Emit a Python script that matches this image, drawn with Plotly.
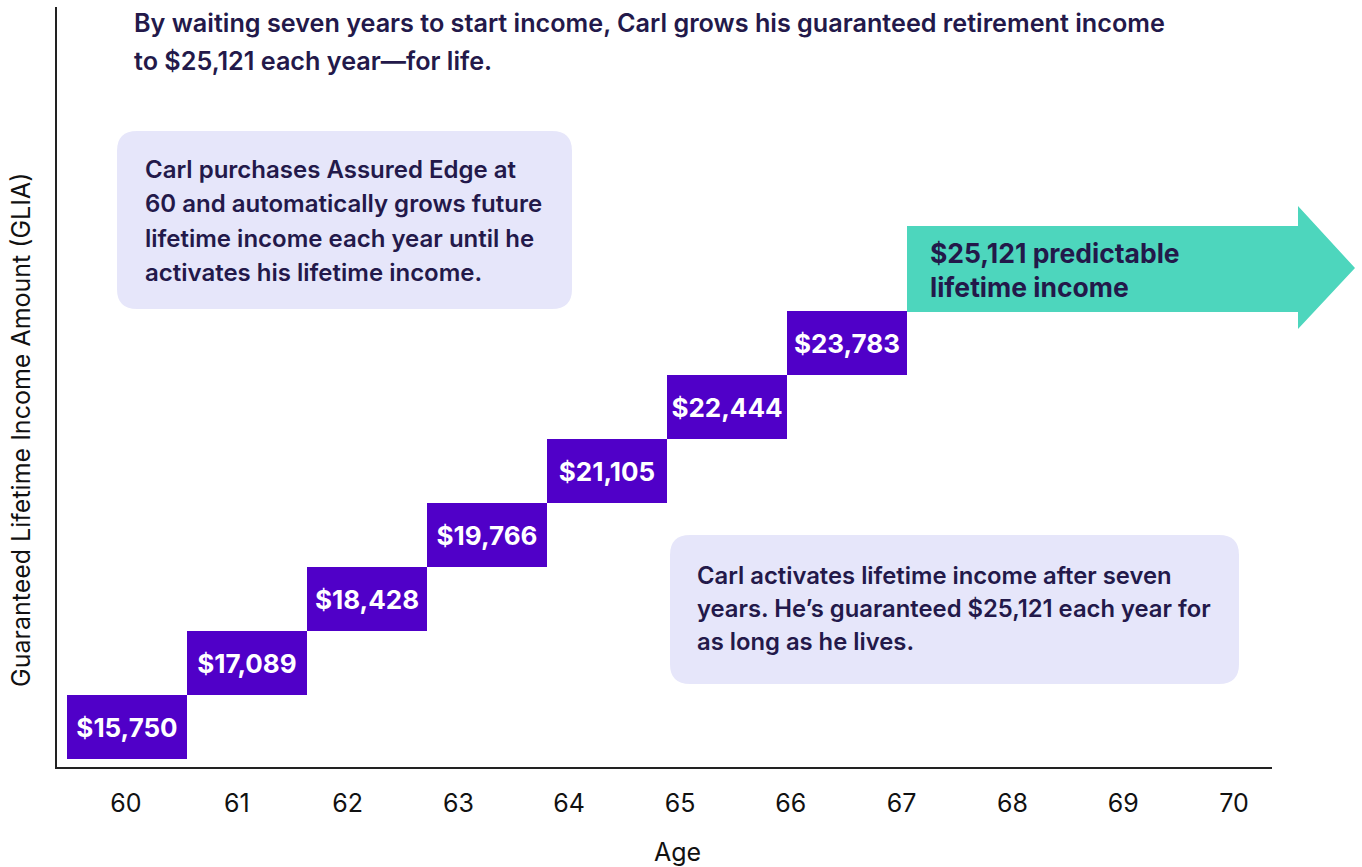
import plotly.graph_objects as go
import numpy as np

# ---- data ----
ages = [60, 61, 62, 63, 64, 65, 66]
glia = [15750, 17089, 18428, 19766, 21105, 22444, 23783]
tick_ages = [60, 61, 62, 63, 64, 65, 66, 67, 68, 69, 70]
final_income = 25121

title_lines = ["By waiting seven years to start income, Carl grows his guaranteed retirement income",
               "to $25,121 each year\u2014for life."]
box1_lines = ["Carl purchases Assured Edge at",
              "60 and automatically grows future",
              "lifetime income each year until he",
              "activates his lifetime income."]
box2_lines = ["Carl activates lifetime income after seven",
              "years. He\u2019s guaranteed $25,121 each year for",
              "as long as he lives."]
arrow_lines = ["$25,121 predictable", "lifetime income"]
x_title = "Age"
y_title = "Guaranteed Lifetime Income Amount (GLIA)"

W, H = 1362, 867
L, R, T, B = 57, 90, 7, 100
X0, X1, Y0, Y1 = L, W - R, T, H - B

def px(x):
    return (x - X0) / (X1 - X0)

def py(y):
    return (Y1 - y) / (Y1 - Y0)

def rrect(x0, y0, x1, y1, r):
    def P(x, y):
        return f"{px(x):.5f},{py(y):.5f}"
    return (f"M {P(x0 + r, y0)} L {P(x1 - r, y0)} Q {P(x1, y0)} {P(x1, y0 + r)} "
            f"L {P(x1, y1 - r)} Q {P(x1, y1)} {P(x1 - r, y1)} "
            f"L {P(x0 + r, y1)} Q {P(x0, y1)} {P(x0, y1 - r)} "
            f"L {P(x0, y0 + r)} Q {P(x0, y0)} {P(x0 + r, y0)} Z")

step = float(np.mean(np.diff(glia)))
vals = np.array(glia, dtype=float)

FONT = "Inter"
NAVY = "#23194A"
PURPLE = "#5000C8"
TEAL = "#4DD6BD"
LAV = "#E6E6FA"

fig = go.Figure()

fig.add_trace(go.Scatter(x=[tick_ages[0], tick_ages[-1]], y=[glia[0], glia[0]], mode="markers",
                         marker=dict(opacity=0), hoverinfo="skip", showlegend=False,
                         xaxis="x", yaxis="y"))

fig.add_trace(go.Bar(
    x=ages, y=[step] * len(ages), base=vals - step, width=1,
    marker=dict(color=PURPLE, line=dict(width=0)),
    text=[f"${v:,}" for v in glia], textposition="inside", insidetextanchor="middle",
    textangle=0, constraintext="none",
    textfont=dict(family=FONT, size=26, color="white", weight="bold"),
    xaxis="x2", yaxis="y", showlegend=False, hoverinfo="skip"))

dollars_per_px = step / 64.0
ymin = glia[0] - (Y1 - 695) * dollars_per_px
ymax = glia[0] + (695 - Y0) * dollars_per_px

unit_tick = (1234 - 126) / (tick_ages[-1] - tick_ages[0])
xr = [tick_ages[0] - (126 - X0) / unit_tick, tick_ages[0] + (X1 - 126) / unit_tick]
unit_bar = 120.0
xr2 = [ages[0] - (127 - X0) / unit_bar, ages[0] + (X1 - 127) / unit_bar]

fig.update_layout(
    template="none",
    width=W, height=H, margin=dict(l=L, r=R, t=T, b=B, autoexpand=False),
    paper_bgcolor="white", plot_bgcolor="white",
    font=dict(family=FONT, color="black"),
    xaxis=dict(range=xr, tickvals=tick_ages, ticktext=[str(a) for a in tick_ages],
               automargin=False,
               showgrid=False, zeroline=False, showline=True, linecolor="#222", linewidth=1.5,
               ticks="", tickfont=dict(family=FONT, size=25, color="#111"),
               ticklabelstandoff=13),
    xaxis2=dict(range=xr2, overlaying="x", visible=False),
    yaxis=dict(range=[ymin, ymax], showgrid=False, zeroline=False, showline=True,
               automargin=False,
               linecolor="#222", linewidth=1.5, showticklabels=False, ticks=""),
    bargap=0,
)

shapes = [
    dict(type="path", xref="paper", yref="paper", path=rrect(117, 131, 572, 309, 20),
         fillcolor=LAV, line=dict(width=0), layer="below"),
    dict(type="path", xref="paper", yref="paper", path=rrect(670, 535, 1239, 684, 20),
         fillcolor=LAV, line=dict(width=0), layer="below"),
]
ax = [907, 1298, 1298, 1355, 1298, 1298, 907]
ay = [226, 226, 206, 268, 329, 312, 312]
apath = "M " + " L ".join(f"{px(a):.5f},{py(b):.5f}" for a, b in zip(ax, ay)) + " Z"
shapes.append(dict(type="path", xref="paper", yref="paper", path=apath,
                   fillcolor=TEAL, line=dict(width=0), layer="above"))
fig.update_layout(shapes=shapes)

ann = []
def add_lines(lines, x, y0, dy, size, weight, color=NAVY):
    for i, t in enumerate(lines):
        ann.append(dict(text=t, x=px(x), y=py(y0 + i * dy), xref="paper", yref="paper",
                        xanchor="left", yanchor="middle", showarrow=False, align="left",
                        font=dict(family=FONT, size=size, color=color, weight=weight)))

add_lines(title_lines, 132, 23, 38, 25.2, 600)
add_lines(box1_lines, 143, 170, 34, 24, 600)
add_lines(box2_lines, 695, 575, 33, 23.8, 600)
add_lines(arrow_lines, 928, 253, 34, 26.5, 700)

ann.append(dict(text=x_title, x=px(677), y=py(852), xref="paper", yref="paper",
                xanchor="center", yanchor="middle", showarrow=False,
                font=dict(family=FONT, size=25, color="#111")))
ann.append(dict(text=y_title, x=px(21), y=py(430), xref="paper", yref="paper",
                xanchor="center", yanchor="middle", showarrow=False, textangle=-90,
                font=dict(family=FONT, size=25, color="#111")))
fig.update_layout(annotations=ann)

fig.write_html("out.html", config={"displayModeBar": False},
               post_script="document.body.style.margin='0';document.body.style.padding='0';")
